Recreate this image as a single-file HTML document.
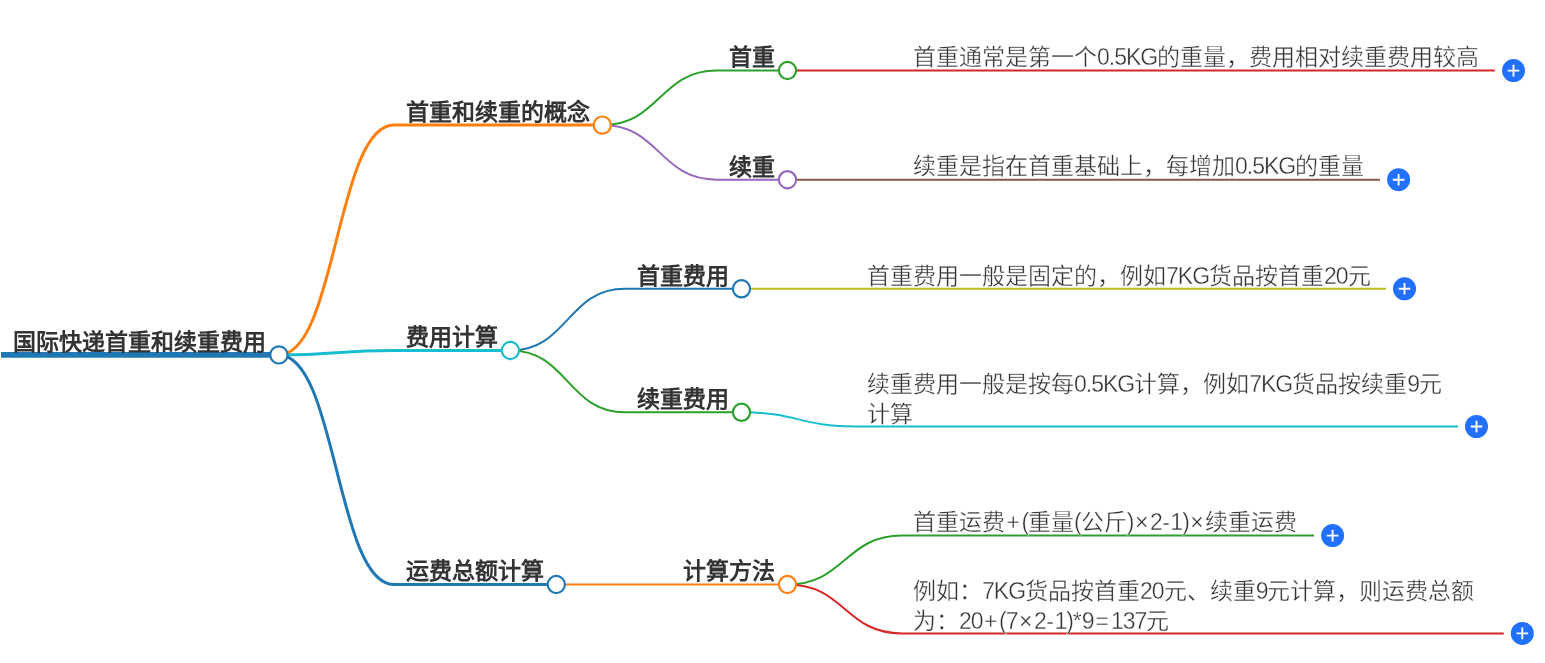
<!DOCTYPE html>
<html lang="zh-CN"><head><meta charset="utf-8"><style>
html,body{margin:0;padding:0;background:#fff;width:1545px;height:663px;overflow:hidden;}
body{position:relative;font-family:"Liberation Sans",sans-serif;}
.b,.l{position:absolute;white-space:nowrap;color:#333;font-size:23px;line-height:29.5px;}
.b{font-weight:bold;}
.b,.l{will-change:transform;}
.l{-webkit-text-stroke:0.35px #fff;}
.n{letter-spacing:-1px;}
.p{padding:0 1.5px;}
.m{padding:0 0.5px;}
.e{padding:0 2px;}
</style></head><body>
<svg width="1545" height="663" style="position:absolute;left:0;top:0">
<line x1="1" y1="354.9" x2="279" y2="354.9" stroke="#1f77b4" stroke-width="5.8"/>
<path d="M278.9,354.9 C336.45,354.9 336.45,125.1 394,125.1 L602.3,125.1" stroke="#ff7f0e" stroke-width="3.0" fill="none"/>
<path d="M278.9,354.9 C336.45,354.9 336.45,350.5 394,350.5 L510.4,350.5" stroke="#17becf" stroke-width="3.0" fill="none"/>
<path d="M278.9,354.9 C336.45,354.9 336.45,584.5 394,584.5 L556.3,584.5" stroke="#1f77b4" stroke-width="3.0" fill="none"/>
<path d="M602.3,125.1 C659.55,125.1 659.55,70.5 716.8,70.5 L787.5,70.5" stroke="#2ca02c" stroke-width="2.0" fill="none"/>
<path d="M602.3,125.1 C659.55,125.1 659.55,179.7 716.8,179.7 L787.5,179.7" stroke="#9467bd" stroke-width="2.0" fill="none"/>
<path d="M510.4,350.5 C567.65,350.5 567.65,288.8 624.9,288.8 L741.5,288.8" stroke="#1f77b4" stroke-width="2.0" fill="none"/>
<path d="M510.4,350.5 C567.65,350.5 567.65,412.3 624.9,412.3 L741.5,412.3" stroke="#2ca02c" stroke-width="2.0" fill="none"/>
<path d="M556.3,584.5 C613.55,584.5 613.55,584.5 670.8,584.5 L787.5,584.5" stroke="#ff7f0e" stroke-width="2.0" fill="none"/>
<path d="M787.5,70.5 C844.75,70.5 844.75,70.6 902.0,70.6 L1494.8,70.6" stroke="#d62728" stroke-width="2.0" fill="none"/>
<path d="M787.5,179.7 C844.75,179.7 844.75,179.7 902.0,179.7 L1380,179.7" stroke="#8c564b" stroke-width="2.0" fill="none"/>
<path d="M741.5,288.8 C798.75,288.8 798.75,288.8 856.0,288.8 L1386,288.8" stroke="#bcbd22" stroke-width="2.0" fill="none"/>
<path d="M741.5,412.3 C798.75,412.3 798.75,426.5 856.0,426.5 L1458,426.5" stroke="#17becf" stroke-width="2.0" fill="none"/>
<path d="M787.5,584.5 C844.75,584.5 844.75,535.6 902.0,535.6 L1314,535.6" stroke="#2ca02c" stroke-width="2.0" fill="none"/>
<path d="M787.5,584.5 C844.75,584.5 844.75,633.4 902.0,633.4 L1503.8,633.4" stroke="#d62728" stroke-width="2.0" fill="none"/>
<circle cx="278.9" cy="354.9" r="8.6" fill="#fff" stroke="#1f77b4" stroke-width="2.16"/>
<circle cx="602.3" cy="125.1" r="8.6" fill="#fff" stroke="#ff7f0e" stroke-width="2.16"/>
<circle cx="510.4" cy="350.5" r="8.6" fill="#fff" stroke="#17becf" stroke-width="2.16"/>
<circle cx="556.3" cy="584.5" r="8.6" fill="#fff" stroke="#1f77b4" stroke-width="2.16"/>
<circle cx="787.5" cy="70.5" r="8.6" fill="#fff" stroke="#2ca02c" stroke-width="2.16"/>
<circle cx="787.5" cy="179.7" r="8.6" fill="#fff" stroke="#9467bd" stroke-width="2.16"/>
<circle cx="741.5" cy="288.8" r="8.6" fill="#fff" stroke="#1f77b4" stroke-width="2.16"/>
<circle cx="741.5" cy="412.3" r="8.6" fill="#fff" stroke="#2ca02c" stroke-width="2.16"/>
<circle cx="787.5" cy="584.5" r="8.6" fill="#fff" stroke="#ff7f0e" stroke-width="2.16"/>
<circle cx="1513.5" cy="70.6" r="11.5" fill="#2170ff"/>
<path d="M1507.7,70.6 H1519.3 M1513.5,64.8 V76.39999999999999" stroke="#fff" stroke-width="1.9"/>
<circle cx="1398.6" cy="179.7" r="11.5" fill="#2170ff"/>
<path d="M1392.8,179.7 H1404.3999999999999 M1398.6,173.89999999999998 V185.5" stroke="#fff" stroke-width="1.9"/>
<circle cx="1404.5" cy="288.8" r="11.5" fill="#2170ff"/>
<path d="M1398.7,288.8 H1410.3 M1404.5,283.0 V294.6" stroke="#fff" stroke-width="1.9"/>
<circle cx="1476.5" cy="426.5" r="11.5" fill="#2170ff"/>
<path d="M1470.7,426.5 H1482.3 M1476.5,420.7 V432.3" stroke="#fff" stroke-width="1.9"/>
<circle cx="1332.6" cy="535.6" r="11.5" fill="#2170ff"/>
<path d="M1326.8,535.6 H1338.3999999999999 M1332.6,529.8000000000001 V541.4" stroke="#fff" stroke-width="1.9"/>
<circle cx="1522.3" cy="633.4" r="11.5" fill="#2170ff"/>
<path d="M1516.5,633.4 H1528.1 M1522.3,627.6 V639.1999999999999" stroke="#fff" stroke-width="1.9"/>
</svg>
<div class="b" style="right:1278.7px;top:327.7px">国际快递首重和续重费用</div>
<div class="b" style="right:955.3px;top:97.9px">首重和续重的概念</div>
<div class="b" style="right:1047.2px;top:323.3px">费用计算</div>
<div class="b" style="right:1001.3px;top:557.3px">运费总额计算</div>
<div class="b" style="right:770.1px;top:43.3px">首重</div>
<div class="b" style="right:770.1px;top:152.5px">续重</div>
<div class="b" style="right:816.1px;top:261.6px">首重费用</div>
<div class="b" style="right:816.1px;top:385.1px">续重费用</div>
<div class="b" style="right:770.1px;top:557.3px">计算方法</div>
<div class="l" style="left:913.3px;top:43.3px">首重通常是第一个<span class="n">0.5KG</span>的重量，费用相对续重费用较高</div>
<div class="l" style="left:913.3px;top:152.4px">续重是指在首重基础上，每增加<span class="n">0.5KG</span>的重量</div>
<div class="l" style="left:867.3px;top:261.6px">首重费用一般是固定的，例如<span class="n">7KG</span>货品按首重<span class="n">20</span>元</div>
<div class="l" style="left:867.3px;top:369.8px">续重费用一般是按每<span class="n">0.5KG</span>计算，例如<span class="n">7KG</span>货品按续重<span class="n">9</span>元<br>计算</div>
<div class="l" style="left:913.3px;top:508.4px">首重运费<span class="p">+</span><span class="n">(</span>重量<span class="n">(</span>公斤<span class="n">)</span><span class="p">×</span><span class="n">2</span><span class="m">-</span><span class="n">1)</span><span class="p">×</span>续重运费</div>
<div class="l" style="left:913.3px;top:576.6px">例如：<span class="n">7KG</span>货品按首重<span class="n">20</span>元、续重<span class="n">9</span>元计算，则运费总额<br>为：<span class="n">20</span><span class="p">+</span><span class="n">(7</span><span class="p">×</span><span class="n">2</span><span class="m">-</span><span class="n">1)</span>*<span class="n">9</span><span class="e">=</span><span class="n">137</span>元</div>
</body></html>
